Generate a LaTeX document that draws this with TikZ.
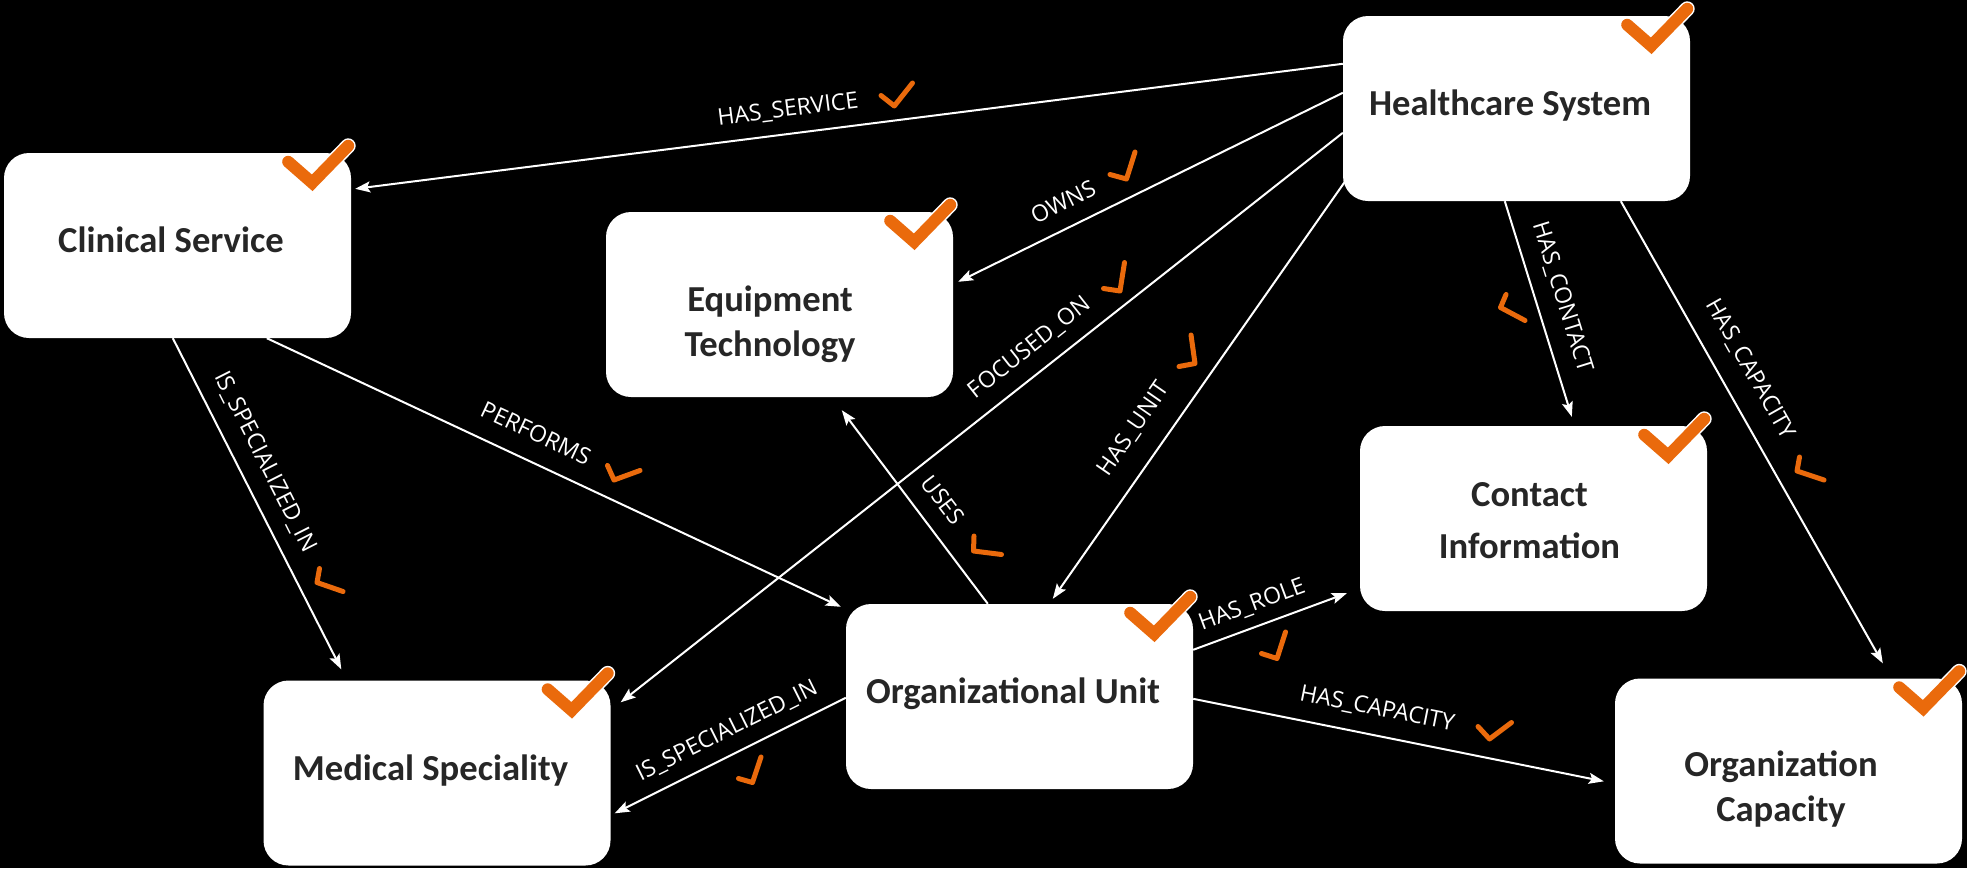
\documentclass[tikz,border=0pt]{standalone}
\usepackage{fontspec}
\setmainfont{Carlito}
\newfontfamily\lblfont{Open Sans}
\usetikzlibrary{calc,arrows.meta}
\definecolor{chk}{RGB}{234,106,12}
\definecolor{ink}{RGB}{38,38,38}
\begin{document}
\begin{tikzpicture}[x=1pt,y=-1pt,
  box/.style={fill=white, rounded corners=25pt, minimum width=347pt, minimum height=185pt, inner sep=0pt},
  title/.style={font=\fontsize{36.6}{44}\selectfont\bfseries, text=ink, anchor=base, inner sep=0pt},
  rel/.style={draw=white, line width=2pt, -{Stealth[length=15pt,width=11pt,inset=3pt]}},
  lbl/.style={font=\lblfont\fontsize{23}{28}\selectfont, text=white, inner sep=0pt},
  chkmark/.style={draw=chk, line width=5pt, line cap=round, line join=round},
  bigchk/.style={draw=chk, line width=12pt, line cap=round, line join=miter},
  bighalo/.style={draw=white, line width=15pt, line cap=round, line join=miter},
]
\fill[black] (0,0) rectangle (1967,868);
\useasboundingbox (0,0) rectangle (1967,868);

% boxes
\node[box] (cs) at (177.5,245.5) {};
\node[box] (et) at (779.5,304.5) {};
\node[box] (hs) at (1516.5,108.5) {};
\node[box] (ci) at (1533.5,518.5) {};
\node[box] (ou) at (1019.5,696.5) {};
\node[box] (ms) at (437,773) {};
\node[box] (oc) at (1788.5,771) {};

% titles
\node[title] (cs-t) at (171,252) {Clinical Service};
\node[title] (hs-t) at (1510,115) {Healthcare System};
\node[title] (ms-t) at (430.5,780) {Medical Speciality};
\node[title] (ou-t) at (1013,703) {Organizational Unit};
\node[title] (et-t1) at (770,311.7) {Equipment};
\node[title] (et-t2) at (770,356) {Technology};
\node[title] (ci-t1) at (1529.5,506) {Contact};
\node[title] (ci-t2) at (1529.5,558.3) {Information};
\node[title] (oc-t1) at (1781,776.7) {Organization};
\node[title] (oc-t2) at (1781,821.7) {Capacity};

% box check marks
\foreach \b in {cs,et,hs,ci,ou,ms,oc}{
  \draw[bighalo] ($(\b.north east)+(-63,9)$) -- ($(\b.north east)+(-39,30)$) -- ($(\b.north east)+(-3,-7)$);
  \draw[bigchk] ($(\b.north east)+(-63,9)$) -- ($(\b.north east)+(-39,30)$) -- ($(\b.north east)+(-3,-7)$);
}

% connectors
\draw[rel] ($(hs.north west)+(0,48)$) -- ($(cs.north east)+(4,36)$);
\draw[rel] ($(hs.north west)+(0,77)$) -- ($(et.north east)+(5,70)$);
\draw[rel] ($(hs.north west)+(0,117)$) -- ($(ms.north east)+(10,22)$);
\draw[rel] ($(hs.north west)+(2,166)$) -- ($(ou.north west)+(207,-5)$);
\draw[rel] ($(hs.south west)+(162,0)$) -- ($(ci.north west)+(212,-9)$);
\draw[rel] ($(hs.south west)+(278,0)$) -- ($(oc.north west)+(268,-15)$);
\draw[rel] ($(cs.south west)+(169,0)$) -- ($(ms.north west)+(78,-11)$);
\draw[rel] ($(cs.south west)+(263,0)$) -- ($(ou.north west)+(-5,3)$);
\draw[rel] ($(ou.north west)+(142,0)$) -- ($(et.south west)+(236,13)$);
\draw[rel] ($(ou.north west)+(0,94)$) -- ($(ms.north east)+(4,133)$);
\draw[rel] ($(ou.north east)+(0,46)$) -- ($(ci.south west)+(-13,-18)$);
\draw[rel] ($(ou.north east)+(0,95)$) -- ($(oc.north west)+(-11,103)$);

% labels
\node[lbl, rotate=7.2] (l1) at (788,110) {HAS\_SERVICE};
\node[lbl, rotate=26.3] (l2) at (1063,202) {OWNS};
\node[lbl, rotate=38.3] (l3) at (1030,348) {FOCUSED\_ON};
\node[lbl, rotate=55.3] (l4) at (1134,429) {HAS\_UNIT};
\node[lbl, rotate=-72.7] (l5) at (1562,297) {HAS\_CONTACT};
\node[lbl, rotate=-60.4] (l6) at (1750,369) {HAS\_CAPACITY};
\node[lbl, rotate=-63.1] (l7) at (265,462) {IS\_SPECIALIZED\_IN};
\node[lbl, rotate=-25.1] (l8) at (536,433) {PERFORMS};
\node[lbl, rotate=-52.7] (l9) at (943,500) {USES};
\node[lbl, rotate=26.5] (l10) at (727,731) {IS\_SPECIALIZED\_IN};
\node[lbl, rotate=20.3] (l11) at (1252,605) {HAS\_ROLE};
\node[lbl, rotate=-11.3] (l12) at (1377,709) {HAS\_CAPACITY};

% label check marks
\draw[chkmark] (881,95.5) -- (894.3,106) -- (912.5,83);
\draw[chkmark] (1110,174.5) -- (1126.5,179) -- (1135,152);
\draw[chkmark] (1103.5,288.5) -- (1120,291) -- (1124.5,262.5);
\draw[chkmark] (1179,366.5) -- (1195,363.5) -- (1191,335);
\draw[chkmark] (1506,294.5) -- (1500.5,307.5) -- (1525,320.5);
\draw[chkmark] (1799.5,457) -- (1797,471) -- (1824,480);
\draw[chkmark] (319.5,568.5) -- (317,582.5) -- (343,591.5);
\draw[chkmark] (607.5,465.5) -- (614,480) -- (640,470.5);
\draw[chkmark] (974,536) -- (973.5,551) -- (1001.5,554.5);
\draw[chkmark] (738.5,778.5) -- (752.5,782.5) -- (761,757);
\draw[chkmark] (1261.5,653.5) -- (1277,658.5) -- (1285.5,632);
\draw[chkmark] (1478,726.5) -- (1489.5,739) -- (1511.5,722.5);
\end{tikzpicture}
\end{document}
